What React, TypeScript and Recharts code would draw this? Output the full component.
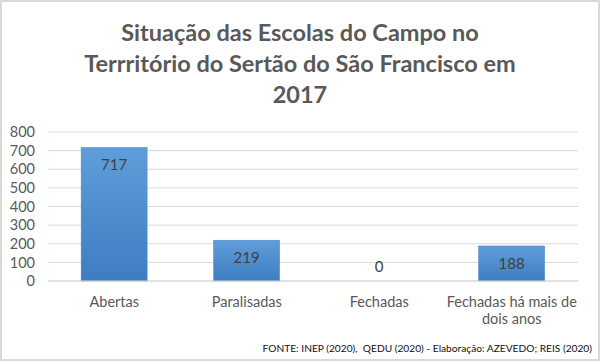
import React from 'react';
import { BarChart, Bar, XAxis, YAxis, CartesianGrid } from 'recharts';

const categories = ['Abertas', 'Paralisadas', 'Fechadas', 'Fechadas há mais de\ndois anos'];
const values = [717, 219, 0, 188];
const yTicks = [0, 100, 200, 300, 400, 500, 600, 700, 800];
const titleLines = ['Situação das Escolas do Campo no', 'Terrritório do Sertão do São Francisco em', '2017'];
const footer = 'FONTE: INEP (2020),  QEDU (2020) - Elaboração: AZEVEDO; REIS (2020)';

const data = categories.map((c, i) => ({ name: c, value: values[i] }));

const FONT = 'Lato, "Liberation Sans", sans-serif';

const XTick = (props: any) => {
  const { x, y, payload } = props;
  const lines = String(payload.value).split('\n');
  return (
    <text x={x} y={y} textAnchor="middle" fill="#595959" fontSize={14.5} fontFamily={FONT}>
      {lines.map((l: string, i: number) => (
        <tspan key={i} x={x} dy={i === 0 ? '0.71em' : 17}>{l}</tspan>
      ))}
    </text>
  );
};

const BarShape = (props: any) => {
  const { x, y, width, height, value, payload } = props;
  const v = Array.isArray(value) ? value[1] - value[0] : (value ?? payload?.value);
  const cy = v > 0 ? y + 17 : y + height - 15;
  return (
    <g>
      {height > 0 && (
        <rect x={x} y={y} width={width} height={height} fill="url(#barGrad)" stroke="#4a85c4" strokeWidth={0.5} />
      )}
      <text x={x + width / 2} y={cy} textAnchor="middle" dominantBaseline="central" fill="#404040" fontSize={15} fontFamily={FONT}>
        {v}
      </text>
    </g>
  );
};

export default function App() {
  return (
    <div style={{ position: 'absolute', left: 0, top: 0, width: 600, height: 361, background: '#fff', boxSizing: 'border-box', border: '2px solid #d9d9d9', fontFamily: FONT }}>
      <div style={{ position: 'absolute', left: -2, top: -2, width: 600, textAlign: 'center' }}>
        {titleLines.map((t, i) => (
          <div key={i} style={{ position: 'absolute', left: 0, width: 600, top: 16 + i * 31, fontSize: 23.5, lineHeight: '32px', fontWeight: 700, color: '#595959' }}>{t}</div>
        ))}
      </div>
      <div style={{ position: 'absolute', left: -2, top: -2 }}>
        <BarChart width={600} height={361} data={data} margin={{ top: 132, right: 22, left: 0, bottom: 0 }} barCategoryGap="25%">
          <defs>
            <linearGradient id="barGrad" x1="0" y1="0" x2="0" y2="1">
              <stop offset="0%" stopColor="#5f9dda" />
              <stop offset="100%" stopColor="#3e7dc1" />
            </linearGradient>
          </defs>
          <CartesianGrid vertical={false} stroke="#d9d9d9" />
          <XAxis dataKey="name" height={80} interval={0} tickLine={false} tickSize={0} tickMargin={16} axisLine={{ stroke: '#d9d9d9' }} tick={<XTick />} />
          <YAxis width={48} domain={[0, 800]} ticks={yTicks} interval={0} axisLine={false} tickLine={false} tickSize={0} tickMargin={13} tick={{ fill: '#595959', fontSize: 14.5, fontFamily: FONT }} />
          <Bar dataKey="value" shape={<BarShape />} isAnimationActive={false} />
        </BarChart>
      </div>
      <div style={{ position: 'absolute', right: 6, top: 339, fontSize: 10.2, lineHeight: '14px', color: '#111', whiteSpace: 'pre' }}>{footer}</div>
    </div>
  );
}
